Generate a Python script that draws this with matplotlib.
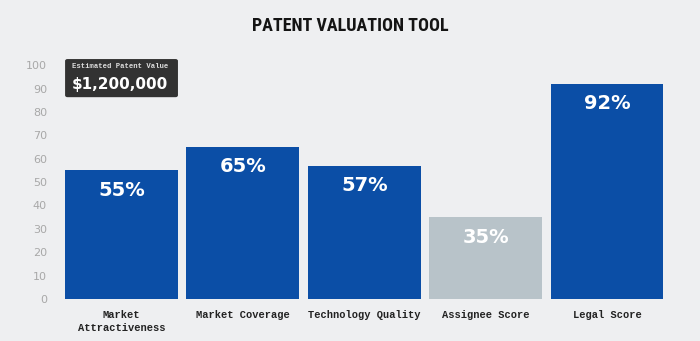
import matplotlib.pyplot as plt
from matplotlib import font_manager
from matplotlib.patches import FancyBboxPatch

categories = ["Market\nAttractiveness", "Market Coverage", "Technology Quality",
              "Assignee Score", "Legal Score"]
scores = [55, 65, 57, 35, 92]
bar_colors = ["#0b4ea6", "#0b4ea6", "#0b4ea6", "#b8c3c9", "#0b4ea6"]
yticks = [0, 10, 20, 30, 40, 50, 60, 70, 80, 90, 100]
estimate_label = "Estimated Patent Value"
estimate_value = "$1,200,000"

# pick a narrow face for the title if one is installed
installed = {f.name for f in font_manager.fontManager.ttflist}
title_font = dict(family="Roboto", fontsize=12, fontweight="heavy")
for name in ["Liberation Sans Narrow", "Roboto Condensed", "DejaVu Sans Condensed",
             "Open Sans Condensed"]:
    if name in installed:
        title_font = dict(family=name, fontsize=13, fontweight="bold")
        break

bg = "#eeeff1"
fig = plt.figure(figsize=(7, 3.41), dpi=100, facecolor=bg)
ax = fig.add_axes([0.0869, 0.123, 0.867, 0.686], facecolor=bg)

x = range(len(scores))
ax.bar(x, scores, width=0.93, color=bar_colors)

for xi, v in zip(x, scores):
    ax.text(xi, v - 8.5, f"{v}%", ha="center", va="center", color="white",
            fontsize=14, fontweight="semibold", family="DejaVu Sans")

ax.set_xlim(-0.5, len(scores) - 0.5)
ax.set_ylim(0, 100)
ax.set_yticks(yticks)
ax.set_xticks(list(x))
ax.set_xticklabels(categories, family="Liberation Mono", fontweight="bold",
                   fontsize=7.5, color="#222222", linespacing=1.4)
for lab in ax.get_yticklabels():
    lab.set_family("DejaVu Sans")
    lab.set_fontsize(8)
    lab.set_color("#a8a8a8")
ax.tick_params(axis="y", length=0, pad=10)
ax.tick_params(axis="x", length=0, pad=8)
for s in ax.spines.values():
    s.set_visible(False)

# estimate box over the first bar
box = FancyBboxPatch((-0.465, 86.3), 0.93, 16.3, boxstyle="round,pad=0,rounding_size=0.02",
                     facecolor="#323232", edgecolor="none", clip_on=False,
                     mutation_aspect=40)
ax.add_patch(box)
ax.text(-0.41, 99.3, estimate_label, ha="left", va="center", color="#dddddd",
        fontsize=5.2, family="Liberation Mono", fontweight="bold")
ax.text(-0.41, 91.8, estimate_value, ha="left", va="center", color="white",
        fontsize=11, fontweight="semibold", family="DejaVu Sans")

fig.text(0.5, 0.925, "PATENT VALUATION TOOL", ha="center", va="center",
         color="#141414", **title_font)

fig.savefig("out.png", dpi=100, facecolor=bg)
